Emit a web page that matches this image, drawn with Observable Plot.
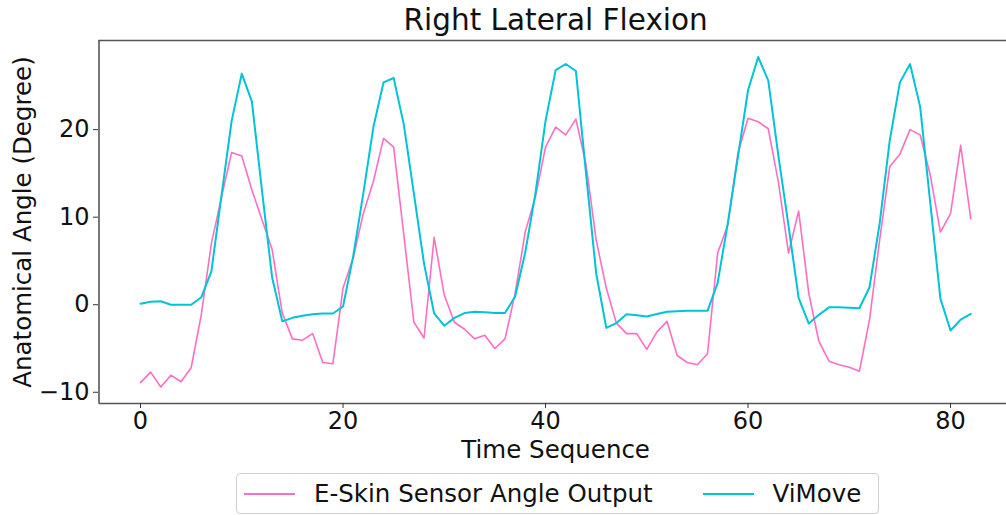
<!DOCTYPE html>
<html>
<head>
<meta charset="utf-8">
<script src="https://cdn.jsdelivr.net/npm/d3@7"></script>
<script src="https://cdn.jsdelivr.net/npm/@observablehq/plot@0.6"></script>
<style>
  body { margin: 0; background: #fff; font-family: "DejaVu Sans", sans-serif; }
  #wrap { position: relative; width: 1006px; height: 515px; overflow: hidden; }
  #legend {
    position: absolute; left: 236px; top: 473px; width: 643px; height: 41px;
    border: 1px solid #d0d0d0; border-radius: 4px; box-sizing: border-box;
    font-size: 24.5px; color: #111; display: flex; align-items: center; white-space: nowrap;
  }
  .sw { display: inline-block; height: 2px; width: 51px; flex: none; }
</style>
</head>
<body>
<div id="wrap"></div>
<script>
const title = "Right Lateral Flexion";
const xLabel = "Time Sequence";
const yLabel = "Anatomical Angle (Degree)";
const seriesNames = ["E-Skin Sensor Angle Output", "ViMove"];
const seriesColors = ["#ff6ec4", "#00c4d6"];
const xTicks = [0, 20, 40, 60, 80];
const yTicks = [-10, 0, 10, 20];

const eskin = [
  -8.9, -7.7, -9.4, -8.05, -8.8, -7.2, -1.15, 7.0, 12.3, 17.4,
  17.0, 13.1, 9.7, 6.3, -0.95, -3.9, -4.05, -3.3, -6.6, -6.75,
  1.9, 5.3, 10.4, 14.1, 19.0, 18.0, 8.0, -2.0, -3.8, 7.7,
  1.1, -2.0, -2.8, -3.9, -3.5, -5.0, -3.9, 1.3, 8.35, 12.3,
  18.0, 20.3, 19.4, 21.2, 16.0, 7.4, 1.9, -2.1, -3.3, -3.3,
  -5.1, -3.1, -1.9, -5.8, -6.6, -6.85, -5.6, 5.9, 9.1, 17.3,
  21.3, 20.9, 20.1, 14.0, 5.9, 10.7, 1.3, -4.2, -6.45, -6.85,
  -7.15, -7.6, -1.7, 7.4, 15.8, 17.2, 20.0, 19.4, 14.8, 8.3,
  10.4, 18.2, 9.8
];
const vimove = [
  0.1, 0.35, 0.4, 0.0, 0.0, 0.0, 0.85, 3.8, 12.5, 21.0,
  26.4, 23.2, 13.0, 3.1, -1.9, -1.5, -1.25, -1.1, -1.0, -1.0,
  -0.2, 5.5, 12.7, 20.3, 25.4, 25.9, 20.6, 12.7, 4.7, -1.0,
  -2.4, -1.5, -0.95, -0.8, -0.85, -0.95, -0.95, 0.95, 6.0, 12.7,
  21.0, 26.8, 27.5, 26.7, 15.0, 3.6, -2.65, -2.1, -1.1, -1.2,
  -1.35, -1.05, -0.8, -0.75, -0.7, -0.7, -0.7, 2.5, 9.3, 16.9,
  24.5, 28.3, 25.6, 17.0, 9.0, 0.75, -2.15, -1.15, -0.3, -0.3,
  -0.35, -0.4, 2.0, 9.3, 18.8, 25.4, 27.5, 22.6, 11.6, 0.7,
  -2.95, -1.7, -1.05
];

const eData = eskin.map((v, i) => ({x: i, y: v}));
const vData = vimove.map((v, i) => ({x: i, y: v}));

// matplotlib-style 5% margins
const allY = eskin.concat(vimove);
const yMin = d3.min(allY), yMax = d3.max(allY);
const yPad = (yMax - yMin) * 0.05;
const xMin = 0, xMax = eskin.length - 1;
const xPad = (xMax - xMin) * 0.05;
const xd = [xMin - xPad, xMax + xPad];
const yd = [yMin - yPad, yMax + yPad];

const chart = Plot.plot({
  width: 1006,
  height: 515,
  marginTop: 40,
  marginBottom: 112,
  marginLeft: 98,
  marginRight: 0,
  style: {fontFamily: "DejaVu Sans, sans-serif", fontSize: "24px", color: "#111", background: "#fff"},
  x: {domain: xd, range: [98.5, 1011.8]},
  y: {domain: yd},
  marks: [
    Plot.ruleX([xd[0]], {y1: yd[0], y2: yd[1], stroke: "#555", strokeWidth: 1.6}),
    Plot.ruleY([yd[0], yd[1]], {x1: xd[0], x2: xd[1], stroke: "#555", strokeWidth: 1.6}),
    Plot.axisX({ticks: xTicks, tickSize: 5, tickPadding: 3, fontSize: 24, label: null, stroke: "#333"}),
    Plot.axisY({ticks: yTicks, tickSize: 5, tickPadding: 4, fontSize: 24, label: null, stroke: "#333", tickFormat: d => d < 0 ? "\u2212" + Math.abs(d) : String(d)}),
    Plot.line(eData, {x: "x", y: "y", stroke: seriesColors[0], strokeWidth: 1.6}),
    Plot.line(vData, {x: "x", y: "y", stroke: seriesColors[1], strokeWidth: 2}),
    Plot.text([title], {x: (xd[0] + xd[1]) / 2, y: yd[1], dy: -20, fontSize: 29.5, fill: "#111"}),
    Plot.text([xLabel], {x: (xd[0] + xd[1]) / 2, y: yd[0], dy: 47, fontSize: 24.5, fill: "#111"}),
    Plot.text([yLabel], {x: xd[0], y: (yd[0] + yd[1]) / 2, dx: -76, rotate: -90, fontSize: 24.5, fill: "#111"})
  ]
});

const wrap = document.getElementById("wrap");
wrap.appendChild(chart);

const legend = document.createElement("div");
legend.id = "legend";
legend.innerHTML =
  `<span class="sw" style="background:${seriesColors[0]};margin-left:7px"></span>` +
  `<span style="margin-left:19px">${seriesNames[0]}</span>` +
  `<span class="sw" style="background:${seriesColors[1]};margin-left:50px"></span>` +
  `<span style="margin-left:19px">${seriesNames[1]}</span>`;
wrap.appendChild(legend);
</script>
</body>
</html>
